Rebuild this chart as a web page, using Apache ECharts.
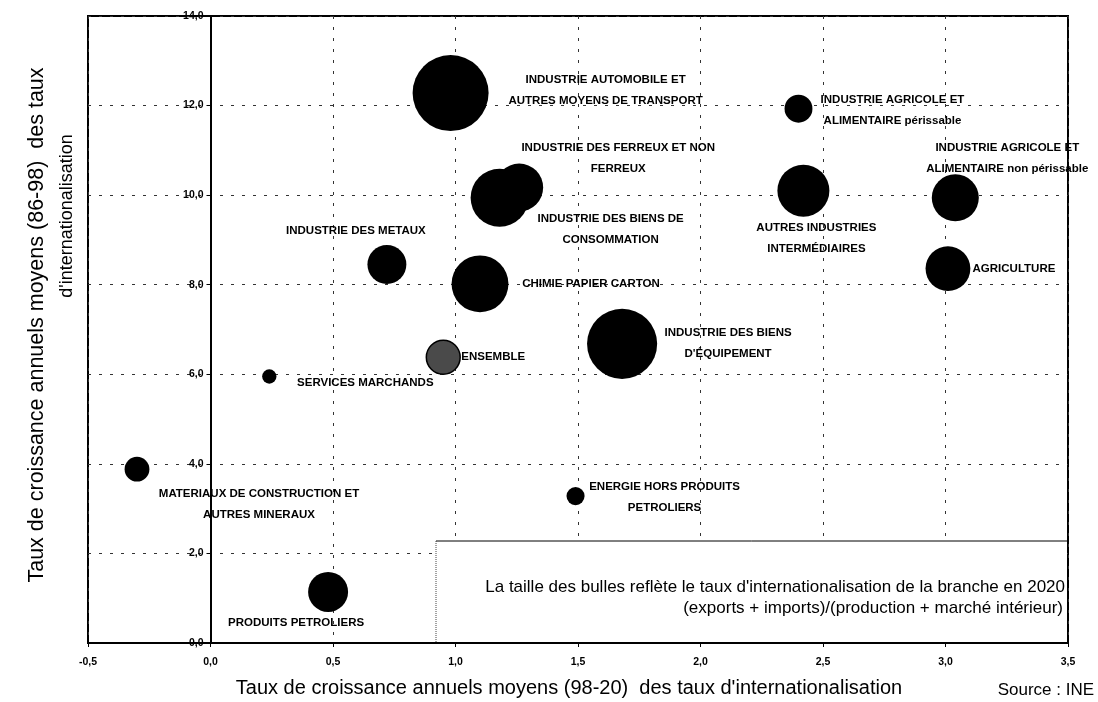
<!DOCTYPE html>
<html>
<head>
<meta charset="utf-8">
<title>Taux d'internationalisation</title>
<script src="https://cdn.jsdelivr.net/npm/echarts/dist/echarts.min.js"></script>
<style>
  html, body { margin: 0; padding: 0; background: #fff; }
  #myChart { width: 1098px; height: 702px; }
</style>
</head>
<body>
<div id="myChart"></div>
<script>
  // branches (libellés tels qu'affichés)
  var branches = [
    'INDUSTRIE AUTOMOBILE ET\nAUTRES MOYENS DE TRANSPORT',
    'INDUSTRIE DES FERREUX ET NON\nFERREUX',
    'INDUSTRIE DES BIENS DE\nCONSOMMATION',
    'INDUSTRIE AGRICOLE ET\nALIMENTAIRE périssable',
    'INDUSTRIE AGRICOLE ET\nALIMENTAIRE non périssable',
    'AUTRES INDUSTRIES\nINTERMÉDIAIRES',
    'AGRICULTURE',
    'INDUSTRIE DES METAUX',
    'CHIMIE PAPIER CARTON',
    'INDUSTRIE DES BIENS\nD\'ÉQUIPEMENT',
    'ENSEMBLE',
    'SERVICES MARCHANDS',
    'MATERIAUX DE CONSTRUCTION ET\nAUTRES MINERAUX',
    'ENERGIE HORS PRODUITS\nPETROLIERS',
    'PRODUITS PETROLIERS'
  ];
  // taux de croissance annuels moyens (98-20)
  var croissance9820 = [0.98, 1.26, 1.18, 2.40, 3.04, 2.42, 3.01, 0.72, 1.10, 1.68, 0.95, 0.24, -0.30, 1.49, 0.48];
  // taux de croissance annuels moyens (86-98)
  var croissance8698 = [12.28, 10.17, 9.94, 11.93, 9.94, 10.10, 8.36, 8.45, 8.02, 6.68, 6.38, 5.95, 3.88, 3.28, 1.14];
  // taux d'internationalisation 2020 (taille des bulles)
  var tauxInter2020 = [141, 56, 82, 19, 54, 66, 49, 37, 79, 120, 28, 5, 15, 8, 39];

  var xTicks = [-0.5, 0, 0.5, 1, 1.5, 2, 2.5, 3, 3.5];
  var yTicks = [0, 2, 4, 6, 8, 10, 12, 14];

  // placement des étiquettes autour des bulles (px depuis le centre)
  var labelOffsets = [
    [155, -3], [99, -29], [111, 31], [94, 2], [52, -40], [13, 48], [66, 0], [-31, -34],
    [111, 0], [106, -1], [50, 0], [96, 6], [122, 35], [89, 1], [-32, 31]
  ];

  function virgule(v) {
    return v.toFixed(1).replace('.', ',');
  }

  var data = branches.map(function (b, i) {
    var item = {
      name: b,
      value: [croissance9820[i], croissance8698[i], tauxInter2020[i]],
      label: {
        offset: labelOffsets[i]
      }
    };
    if (b === 'ENSEMBLE') {
      item.itemStyle = {
        color: '#4a4a4a',
        borderColor: '#000',
        borderWidth: 1.5
      };
    }
    return item;
  });

  var myChart = echarts.init(document.getElementById('myChart'));
  myChart.setOption({
    animation: false,
    backgroundColor: '#fff',
    grid: {
      left: 88,
      right: 30,
      top: 16,
      bottom: 59,
      show: true,
      borderColor: '#000',
      borderWidth: 2
    },
    xAxis: {
      type: 'value',
      min: xTicks[0],
      max: xTicks[xTicks.length - 1],
      interval: 0.5,
      axisLine: { lineStyle: { color: '#000', width: 2 } },
      axisTick: { show: true, length: 4, lineStyle: { color: '#000' } },
      axisLabel: {
        margin: 14,
        color: '#000',
        fontFamily: 'Liberation Sans',
        fontWeight: 'bold',
        fontSize: 10.5,
        formatter: virgule
      },
      splitLine: { show: true, lineStyle: { color: '#333', type: [3, 8], width: 1 } }
    },
    yAxis: {
      type: 'value',
      min: yTicks[0],
      max: yTicks[yTicks.length - 1],
      interval: 2,
      // l'axe vertical est tracé sur x = 0
      offset: -122.5,
      axisLine: { onZero: false, lineStyle: { color: '#000', width: 2 } },
      axisTick: { show: true, length: 4, lineStyle: { color: '#000' } },
      axisLabel: {
        margin: 7,
        color: '#000',
        fontFamily: 'Liberation Sans',
        fontWeight: 'bold',
        fontSize: 10.5,
        formatter: virgule
      },
      splitLine: { show: true, lineStyle: { color: '#333', type: [3, 8], width: 1 } }
    },
    graphic: [
      // encadré de la légende
      {
        type: 'rect',
        z: 5,
        shape: { x: 436, y: 541, width: 631, height: 101 },
        style: { fill: '#fff', stroke: null }
      },
      {
        type: 'line',
        z: 6,
        shape: { x1: 436, y1: 541, x2: 1067, y2: 541 },
        style: { stroke: '#000', lineWidth: 1 }
      },
      {
        type: 'line',
        z: 6,
        shape: { x1: 436, y1: 541, x2: 436, y2: 643 },
        style: { stroke: '#444', lineWidth: 1, lineDash: [1, 1] }
      },
      {
        type: 'text',
        z: 6,
        x: 1065,
        y: 587,
        style: {
          text: 'La taille des bulles reflète le taux d\'internationalisation de la branche en 2020',
          fill: '#000',
          font: '17px "Liberation Sans"',
          textAlign: 'right',
          textVerticalAlign: 'middle'
        }
      },
      {
        type: 'text',
        z: 6,
        x: 1063,
        y: 608,
        style: {
          text: '(exports + imports)/(production + marché intérieur)',
          fill: '#000',
          font: '17px "Liberation Sans"',
          textAlign: 'right',
          textVerticalAlign: 'middle'
        }
      },
      // titres des axes
      {
        type: 'text',
        x: 569,
        y: 688,
        style: {
          text: 'Taux de croissance annuels moyens (98-20)  des taux d\'internationalisation',
          fill: '#000',
          font: '20px "Liberation Sans"',
          textAlign: 'center',
          textVerticalAlign: 'middle'
        }
      },
      {
        type: 'text',
        x: 37,
        y: 325,
        rotation: Math.PI / 2,
        style: {
          text: 'Taux de croissance annuels moyens (86-98)  des taux',
          fill: '#000',
          font: '21.5px "Liberation Sans"',
          textAlign: 'center',
          textVerticalAlign: 'middle'
        }
      },
      {
        type: 'text',
        x: 67,
        y: 216,
        rotation: Math.PI / 2,
        style: {
          text: 'd\'internationalisation',
          fill: '#000',
          font: '18px "Liberation Sans"',
          textAlign: 'center',
          textVerticalAlign: 'middle'
        }
      },
      {
        type: 'text',
        x: 1094,
        y: 690,
        style: {
          text: 'Source : INE',
          fill: '#000',
          font: '17px "Liberation Sans"',
          textAlign: 'right',
          textVerticalAlign: 'middle'
        }
      }
    ],
    series: [
      {
        type: 'scatter',
        z: 10,
        data: data,
        symbolSize: function (val) {
          return 6.4 * Math.sqrt(val[2]);
        },
        itemStyle: { color: '#000', opacity: 1 },
        label: {
          show: true,
          position: 'inside',
          align: 'center',
          verticalAlign: 'middle',
          color: '#000',
          fontFamily: 'Liberation Sans',
          fontWeight: 'bold',
          fontSize: 11.5,
          lineHeight: 21,
          formatter: function (p) { return p.name; }
        },
        emphasis: { disabled: true }
      }
    ]
  });
</script>
</body>
</html>
